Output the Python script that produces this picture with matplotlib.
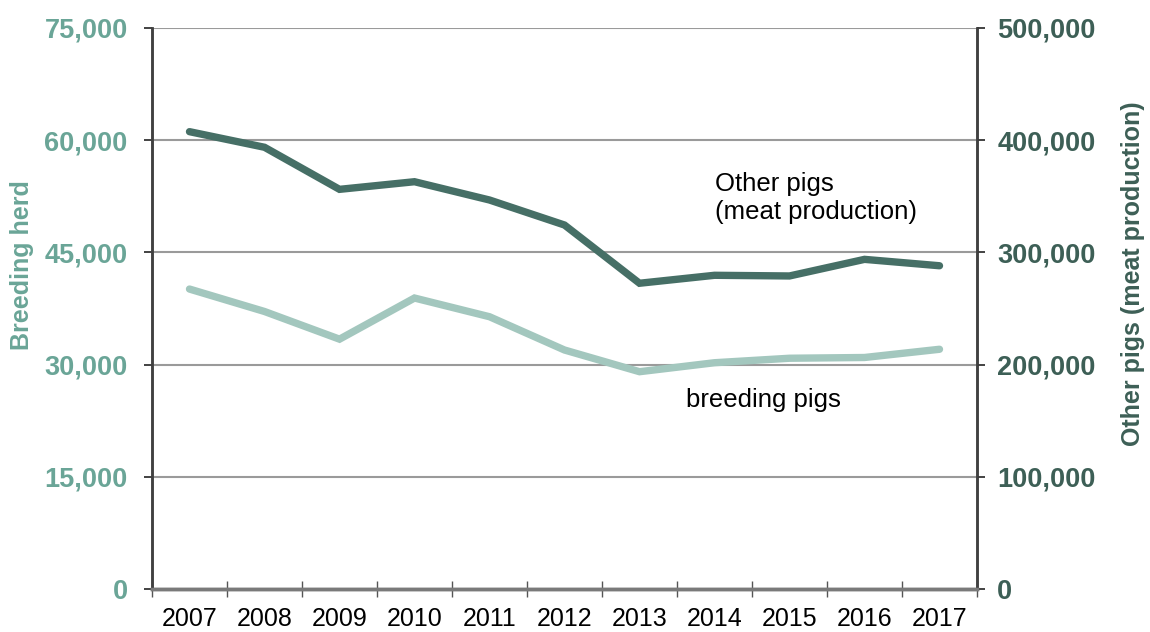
import matplotlib
matplotlib.use("Agg")
import matplotlib.pyplot as plt
from matplotlib.ticker import FuncFormatter, FixedLocator, NullFormatter

plt.rcParams['font.family'] = ['Liberation Sans', 'DejaVu Sans']

years = ['2007', '2008', '2009', '2010', '2011', '2012',
         '2013', '2014', '2015', '2016', '2017']
breeding_pigs = [40100, 37100, 33400, 38900, 36400, 31950,
                 29050, 30250, 30850, 30950, 32050]
other_pigs = [407600, 393700, 356200, 363000, 346700, 324400,
              272500, 279600, 279000, 293800, 288100]

light = '#a3c7be'
dark = '#466f66'
left_col = '#6aa597'
right_col = '#3d5f56'

fig = plt.figure(figsize=(11.5, 6.32), dpi=100)
ax = fig.add_axes([152 / 1150, 43 / 632, 825 / 1150, 561 / 632])
ax2 = ax.twinx()

x = list(range(len(years)))

# grid lines on the left scale
for v in [15000, 30000, 45000, 60000, 75000]:
    ax.axhline(v, color='#9a9a9a', lw=1.5, zorder=0)

ax.plot(x, breeding_pigs, color=light, lw=5.3, solid_capstyle='round',
        solid_joinstyle='miter', zorder=3)
ax2.plot(x, other_pigs, color=dark, lw=5.3, solid_capstyle='round',
         solid_joinstyle='miter', zorder=3)

ax.set_xlim(-0.5, len(years) - 0.5)
ax.set_ylim(0, 75000)
ax2.set_ylim(0, 500000)

ax.set_yticks(range(0, 75001, 15000))
ax2.set_yticks(range(0, 500001, 100000))
fmt = FuncFormatter(lambda v, p: '{:,.0f}'.format(v))
ax.yaxis.set_major_formatter(fmt)
ax2.yaxis.set_major_formatter(fmt)

# category axis: ticks between years, labels centred
ax.xaxis.set_major_locator(FixedLocator([i - 0.5 for i in range(len(years) + 1)]))
ax.xaxis.set_major_formatter(NullFormatter())
ax.xaxis.set_minor_locator(FixedLocator(x))
ax.set_xticklabels(years, minor=True)
ax.tick_params(axis='x', which='major', direction='inout', length=11,
               width=1, color='#555555')
ax.tick_params(axis='x', which='minor', length=0, pad=13, labelsize=18,
               labelcolor='black')

ax.tick_params(axis='y', direction='out', length=6, width=1.2, color='#222222',
               pad=11.5, labelsize=19.5, labelcolor=left_col)
ax2.tick_params(axis='y', direction='out', length=6, width=1.2, color='#222222',
                pad=8.6, labelsize=19.5, labelcolor=right_col)
for lab in ax.get_yticklabels():
    lab.set_fontweight('bold')
for lab in ax2.get_yticklabels():
    lab.set_fontweight('bold')

for a in (ax, ax2):
    a.spines['top'].set_visible(False)
    a.spines['left'].set_color('#404040')
    a.spines['left'].set_linewidth(1.8)
    a.spines['right'].set_color('#404040')
    a.spines['right'].set_linewidth(1.8)
    a.spines['bottom'].set_color('#7a7a7a')
    a.spines['bottom'].set_linewidth(2.5)

fig.text(22 / 1150, 1 - 265 / 632, 'Breeding herd', rotation=90, ha='center',
         va='center', fontsize=18, fontweight='bold', color=left_col)
fig.text(1133 / 1150, 1 - 274 / 632, 'Other pigs (meat production)',
         rotation=90, ha='center', va='center', fontsize=18,
         fontweight='bold', color=right_col)

fig.text(715 / 1150, 1 - 198 / 632, 'Other pigs\n(meat production)',
         ha='left', va='center', fontsize=18.5, linespacing=1.2)
fig.text(686 / 1150, 1 - 400 / 632, 'breeding pigs', ha='left', va='center',
         fontsize=18.5)

fig.savefig('out.png', dpi=100)
